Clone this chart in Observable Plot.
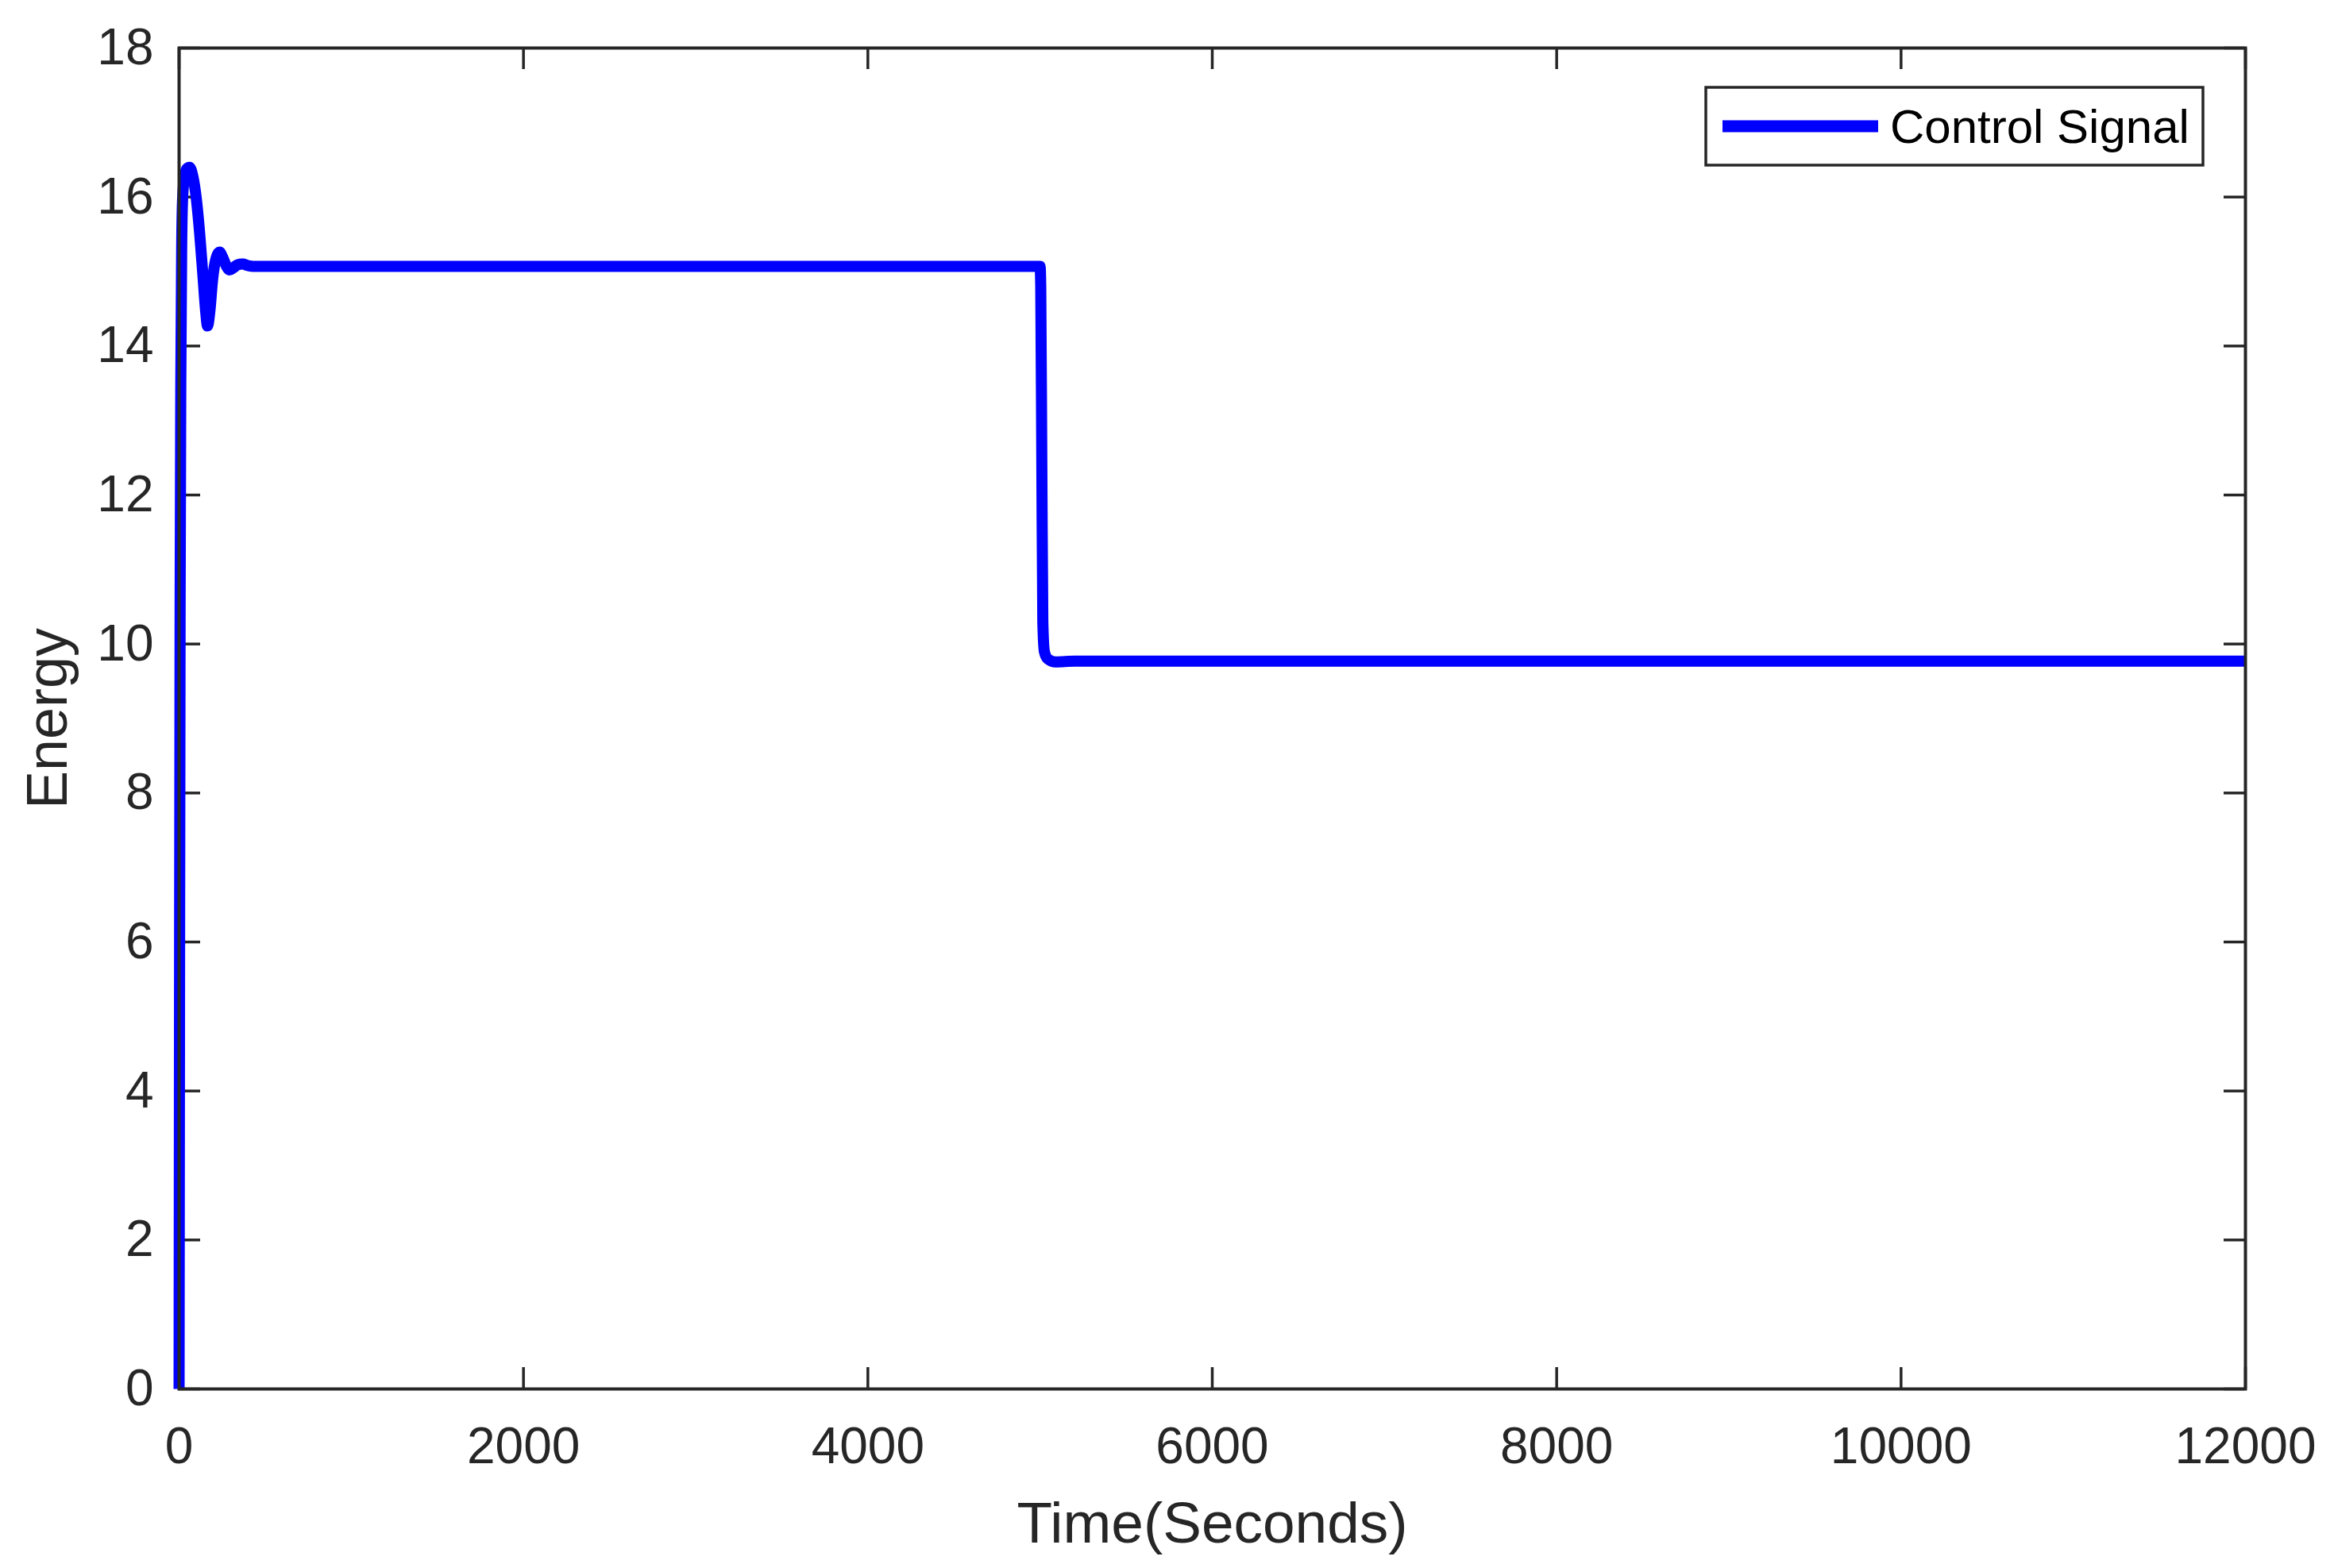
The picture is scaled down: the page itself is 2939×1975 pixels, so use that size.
<!DOCTYPE html>
<html>
<head>
<meta charset="utf-8">
<script src="https://cdn.jsdelivr.net/npm/d3@7"></script>
<script src="https://cdn.jsdelivr.net/npm/@observablehq/plot@0.6"></script>
<style>
  html, body { margin: 0; padding: 0; background: #ffffff; }
</style>
</head>
<body>
<div id="chart"></div>
<script>
// ---- data ----
const time   = [0, 3, 6, 10, 15, 20, 30, 45, 61, 80, 100, 120, 140, 155, 165, 178, 195, 215, 235, 255, 275, 292, 315, 340, 369, 400, 430,
                5000, 5004, 5010, 5016, 5025, 5045, 5090, 5200, 12000];
const energy = [0, 6, 10.5, 13.5, 15.3, 15.95, 16.25, 16.38, 16.40, 16.28, 15.98, 15.5, 14.9, 14.45, 14.27, 14.45, 14.9, 15.18, 15.26, 15.18, 15.07, 15.02, 15.05, 15.09, 15.10, 15.08, 15.07,
                15.07, 14.8, 12.5, 10.3, 9.9, 9.8, 9.76, 9.77, 9.77];
const xTicks = [0, 2000, 4000, 6000, 8000, 10000, 12000];
const yTicks = [0, 2, 4, 6, 8, 10, 12, 14, 16, 18];
const seriesName = "Control Signal";
const xLabel = "Time(Seconds)";
const yLabel = "Energy";

const data = time.map((t, i) => ({t, v: energy[i]}));

// ---- layout ----
const W = 2939, H = 1975;
const mL = 225, mR = 112, mT = 60, mB = 226;
const plotW = W - mL - mR, plotH = H - mT - mB;
const tickLen = 27;
const axisColor = "#262626";
const lineColor = "#0000ff";
const fontFamily = "'Liberation Sans', Arial, Helvetica, sans-serif";

// legend drawn as a custom mark inside the plot frame (top-right)
const legendMark = (index, scales, values, dims) => {
  const boxW = 626, boxH = 98;
  const x0 = dims.width - dims.marginRight - 53 - boxW;
  const y0 = dims.marginTop + 50;
  const g = d3.create("svg:g");
  g.append("rect")
    .attr("x", x0).attr("y", y0).attr("width", boxW).attr("height", boxH)
    .attr("fill", "#ffffff").attr("stroke", axisColor).attr("stroke-width", 3.5);
  g.append("line")
    .attr("x1", x0 + 21).attr("x2", x0 + 217)
    .attr("y1", y0 + boxH / 2).attr("y2", y0 + boxH / 2)
    .attr("stroke", lineColor).attr("stroke-width", 15);
  g.append("text")
    .attr("x", x0 + 232).attr("y", y0 + boxH / 2 + 21)
    .attr("text-anchor", "start")
    .attr("font-size", 60).attr("font-family", fontFamily)
    .attr("fill", "#000000")
    .text(seriesName);
  return g.node();
};

const chart = Plot.plot({
  width: W, height: H,
  marginLeft: mL, marginRight: mR, marginTop: mT, marginBottom: mB,
  style: {fontFamily, background: "#ffffff", color: axisColor},
  x: {domain: [0, 12000]},
  y: {domain: [0, 18]},
  marks: [
    Plot.axisX(xTicks, {tickSize: 0, tickPadding: 48, fontSize: 64, tickFormat: d => String(d), label: null}),
    Plot.axisY(yTicks, {tickSize: 0, tickPadding: 32, fontSize: 64, tickFormat: d => String(d), label: null}),
    // inward ticks on all four sides
    Plot.ruleX(xTicks, {x: d => d, stroke: axisColor, strokeWidth: 3.5, insetTop: plotH - tickLen}),
    Plot.ruleX(xTicks, {x: d => d, stroke: axisColor, strokeWidth: 3.5, insetBottom: plotH - tickLen}),
    Plot.ruleY(yTicks, {y: d => d, stroke: axisColor, strokeWidth: 3.5, insetRight: plotW - tickLen}),
    Plot.ruleY(yTicks, {y: d => d, stroke: axisColor, strokeWidth: 3.5, insetLeft: plotW - tickLen}),
    Plot.line(data, {x: "t", y: "v", stroke: lineColor, strokeWidth: 14, curve: "monotone-x",
                     strokeLinecap: "butt", strokeLinejoin: "round"}),
    Plot.frame({stroke: axisColor, strokeWidth: 4}),
    Plot.text([xLabel], {frameAnchor: "bottom", dy: 193, lineAnchor: "bottom", textAnchor: "middle", fontSize: 73, fill: axisColor}),
    Plot.text([yLabel], {frameAnchor: "left", dx: -142, rotate: -90, lineAnchor: "bottom", textAnchor: "middle", fontSize: 72, fill: axisColor}),
    legendMark
  ]
});

document.getElementById("chart").appendChild(chart);
</script>
</body>
</html>
